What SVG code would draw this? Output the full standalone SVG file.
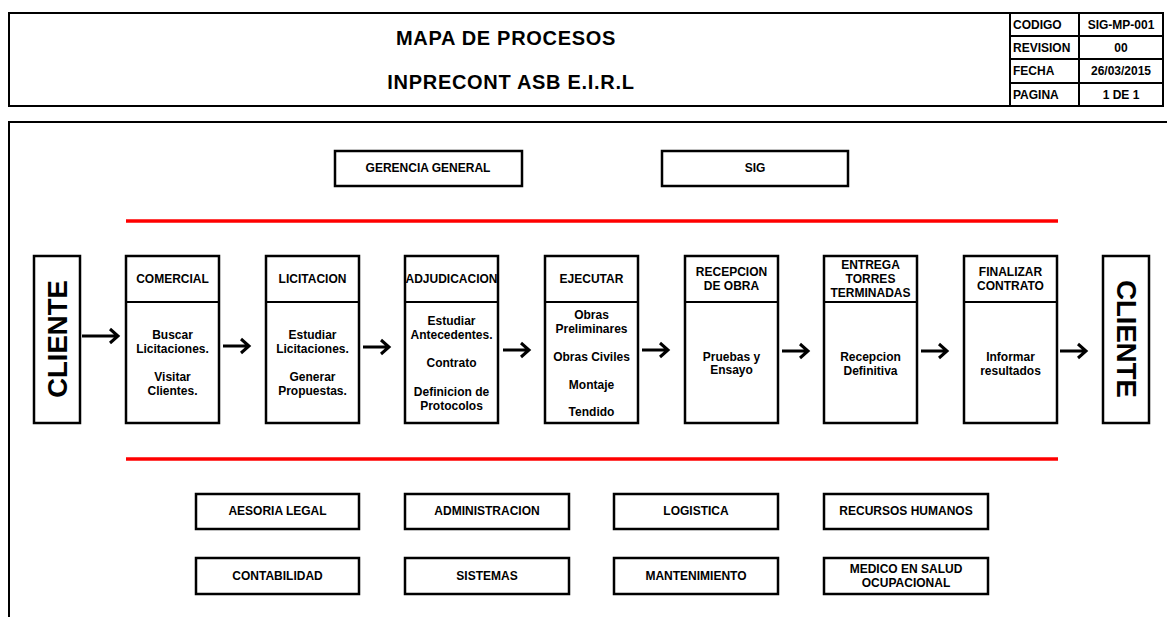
<svg xmlns="http://www.w3.org/2000/svg" width="1167" height="617" viewBox="0 0 1167 617">
<style>
  .frame{fill:none;stroke:#000;stroke-width:2}
  .box{fill:#fff;stroke:#000;stroke-width:2.5}
  .t{font-family:"Liberation Sans",Arial,sans-serif;font-weight:bold;fill:#000;text-anchor:middle}
  .s{font-size:12px}
  .h{font-size:12px}
  .l{text-anchor:start}
  .big{font-size:20px;letter-spacing:0.7px}
  .cli{font-size:27.5px}
  .red{stroke:#ff0000;stroke-width:3.5}
  .arr{fill:none;stroke:#000;stroke-width:3}
</style>
<defs>
  <clipPath id="clipAdj"><rect x="405" y="256" width="93" height="46"/></clipPath>
</defs>
<rect width="1167" height="617" fill="#fff"/>

<g id="header">
  <rect class="frame" x="9" y="13" width="1154" height="93"/>
  <line class="frame" x1="1010" y1="13" x2="1010" y2="106"/>
  <line class="frame" x1="1079" y1="13" x2="1079" y2="106"/>
  <line class="frame" x1="1010" y1="36" x2="1163" y2="36"/>
  <line class="frame" x1="1010" y1="59" x2="1163" y2="59"/>
  <line class="frame" x1="1010" y1="83" x2="1163" y2="83"/>
  <text class="t big" x="506" y="45">MAPA DE PROCESOS</text>
  <text class="t big" x="511" y="89">INPRECONT ASB E.I.R.L</text>
  <text class="t h l" x="1013" y="29">CODIGO</text>
  <text class="t h l" x="1013" y="52">REVISION</text>
  <text class="t h l" x="1013" y="75">FECHA</text>
  <text class="t h l" x="1013" y="99">PAGINA</text>
  <text class="t h" x="1121" y="29">SIG-MP-001</text>
  <text class="t h" x="1121" y="52">00</text>
  <text class="t h" x="1121" y="75">26/03/2015</text>
  <text class="t h" x="1121" y="99">1 DE 1</text>
</g>

<g id="body-frame">
  <polyline class="frame" points="9,617 9,122 1167,122"/>
</g>

<g id="gerencia">
  <rect class="box" x="335" y="151" width="187" height="35"/>
  <text class="t s" x="428" y="172">GERENCIA GENERAL</text>
</g>
<g id="sig">
  <rect class="box" x="662" y="151" width="186" height="35"/>
  <text class="t s" x="755" y="172">SIG</text>
</g>

<g id="red-lines">
  <line class="red" x1="126" y1="221" x2="1058" y2="221"/>
  <line class="red" x1="126" y1="459" x2="1058" y2="459"/>
</g>

<g id="cliente-left">
  <rect class="box" x="34" y="256" width="46" height="167"/>
  <text class="t cli" transform="translate(66.5,339) rotate(-90)" x="0" y="0">CLIENTE</text>
</g>

<g id="comercial">
  <rect class="box" x="126" y="256" width="93" height="167"/>
  <line class="frame" x1="126" y1="302" x2="219" y2="302"/>
  <text class="t s" x="172.5" y="283">COMERCIAL</text>
  <text class="t s" x="172.5" y="339">Buscar</text>
  <text class="t s" x="172.5" y="353">Licitaciones.</text>
  <text class="t s" x="172.5" y="381">Visitar</text>
  <text class="t s" x="172.5" y="395">Clientes.</text>
</g>

<g id="licitacion">
  <rect class="box" x="266" y="256" width="93" height="167"/>
  <line class="frame" x1="266" y1="302" x2="359" y2="302"/>
  <text class="t s" x="312.5" y="283">LICITACION</text>
  <text class="t s" x="312.5" y="339">Estudiar</text>
  <text class="t s" x="312.5" y="353">Licitaciones.</text>
  <text class="t s" x="312.5" y="381">Generar</text>
  <text class="t s" x="312.5" y="395">Propuestas.</text>
</g>

<g id="adjudicacion">
  <rect class="box" x="405" y="256" width="93" height="167"/>
  <line class="frame" x1="405" y1="302" x2="498" y2="302"/>
  <text class="t s" x="451.5" y="283" clip-path="url(#clipAdj)">ADJUDICACION</text>
  <text class="t s" x="451.5" y="325">Estudiar</text>
  <text class="t s" x="451.5" y="339">Antecedentes.</text>
  <text class="t s" x="451.5" y="367">Contrato</text>
  <text class="t s" x="451.5" y="396">Definicion de</text>
  <text class="t s" x="451.5" y="410">Protocolos</text>
</g>

<g id="ejecutar">
  <rect class="box" x="545" y="256" width="93" height="167"/>
  <line class="frame" x1="545" y1="302" x2="638" y2="302"/>
  <text class="t s" x="591.5" y="283">EJECUTAR</text>
  <text class="t s" x="591.5" y="319">Obras</text>
  <text class="t s" x="591.5" y="333">Preliminares</text>
  <text class="t s" x="591.5" y="361">Obras Civiles</text>
  <text class="t s" x="591.5" y="389">Montaje</text>
  <text class="t s" x="591.5" y="416">Tendido</text>
</g>

<g id="recepcion">
  <rect class="box" x="685" y="256" width="93" height="167"/>
  <line class="frame" x1="685" y1="302" x2="778" y2="302"/>
  <text class="t s" x="731.5" y="276">RECEPCION</text>
  <text class="t s" x="731.5" y="290">DE OBRA</text>
  <text class="t s" x="731.5" y="361">Pruebas y</text>
  <text class="t s" x="731.5" y="374">Ensayo</text>
</g>

<g id="entrega">
  <rect class="box" x="824" y="256" width="93" height="167"/>
  <line class="frame" x1="824" y1="302" x2="917" y2="302"/>
  <text class="t s" x="870.5" y="269">ENTREGA</text>
  <text class="t s" x="870.5" y="283">TORRES</text>
  <text class="t s" x="870.5" y="297">TERMINADAS</text>
  <text class="t s" x="870.5" y="361">Recepcion</text>
  <text class="t s" x="870.5" y="375">Definitiva</text>
</g>

<g id="finalizar">
  <rect class="box" x="964" y="256" width="93" height="167"/>
  <line class="frame" x1="964" y1="302" x2="1057" y2="302"/>
  <text class="t s" x="1010.5" y="276">FINALIZAR</text>
  <text class="t s" x="1010.5" y="290">CONTRATO</text>
  <text class="t s" x="1010.5" y="361">Informar</text>
  <text class="t s" x="1010.5" y="375">resultados</text>
</g>

<g id="cliente-right">
  <rect class="box" x="1103" y="256" width="46" height="167"/>
  <text class="t cli" transform="translate(1116.5,339) rotate(90)" x="0" y="0">CLIENTE</text>
</g>

<g id="connectors">
  <path class="arr" d="M82,336 H118 M110,329 L118,336 L110,343"/>
  <path class="arr" d="M223,346 H249 M241,339 L249,346 L241,353"/>
  <path class="arr" d="M363,347 H389 M381,340 L389,347 L381,354"/>
  <path class="arr" d="M503,350 H529 M521,343 L529,350 L521,357"/>
  <path class="arr" d="M642,350 H668 M660,343 L668,350 L660,357"/>
  <path class="arr" d="M782,351 H808 M800,344 L808,351 L800,358"/>
  <path class="arr" d="M921,351 H947 M939,344 L947,351 L939,358"/>
  <path class="arr" d="M1060,351 H1086 M1078,344 L1086,351 L1078,358"/>
</g>

<g id="aesoria"><rect class="box" x="196" y="494" width="163" height="35"/><text class="t s" x="277.5" y="515">AESORIA LEGAL</text></g>
<g id="administracion"><rect class="box" x="405" y="494" width="164" height="35"/><text class="t s" x="487" y="515">ADMINISTRACION</text></g>
<g id="logistica"><rect class="box" x="614" y="494" width="164" height="35"/><text class="t s" x="696" y="515">LOGISTICA</text></g>
<g id="rrhh"><rect class="box" x="824" y="494" width="164" height="35"/><text class="t s" x="906" y="515">RECURSOS HUMANOS</text></g>
<g id="contabilidad"><rect class="box" x="196" y="558" width="163" height="36"/><text class="t s" x="277.5" y="580">CONTABILIDAD</text></g>
<g id="sistemas"><rect class="box" x="405" y="558" width="164" height="36"/><text class="t s" x="487" y="580">SISTEMAS</text></g>
<g id="mantenimiento"><rect class="box" x="614" y="558" width="164" height="36"/><text class="t s" x="696" y="580">MANTENIMIENTO</text></g>
<g id="medico"><rect class="box" x="824" y="558" width="164" height="36"/><text class="t s" x="906" y="573">MEDICO EN SALUD</text><text class="t s" x="906" y="587">OCUPACIONAL</text></g>
</svg>
